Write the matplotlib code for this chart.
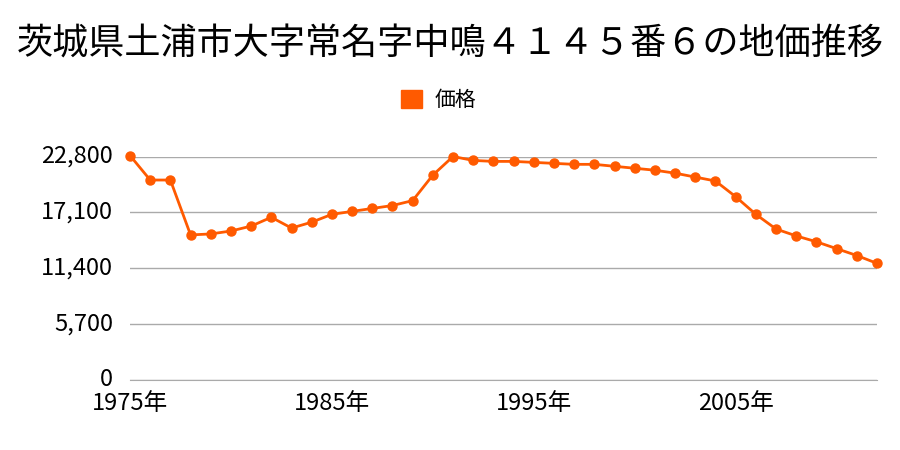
import matplotlib.pyplot as plt
from matplotlib.patches import Patch

plt.rcParams['font.family'] = ['Noto Sans CJK JP', 'DejaVu Sans']

years = list(range(1975, 2013))
prices = [22900, 20400, 20400, 14800, 14900, 15200, 15700, 16600, 15500, 16100,
          16900, 17200, 17500, 17800, 18300, 20900, 22800, 22400, 22300, 22300,
          22200, 22100, 22000, 22000, 21800, 21600, 21400, 21100, 20700, 20300,
          18700, 16900, 15400, 14700, 14100, 13400, 12700, 11900]
yticks = [0, 5700, 11400, 17100, 22800]
xticks = [1975, 1985, 1995, 2005]
title = "茨城県土浦市大字常名字中鳴４１４５番６の地価推移"
color = "#ff5a00"

fig = plt.figure(figsize=(9, 4.5), dpi=100)
ax = fig.add_axes([130 / 900, 1 - 380 / 450, 747 / 900, 223.5 / 450])

ax.plot(years, prices, color=color, lw=2, marker="o", markersize=6.5, clip_on=False, zorder=3)

ax.set_xlim(1975, 2012)
ax.set_ylim(0, 22800)
ax.set_yticks(yticks)
ax.set_yticklabels([f"{v:,}" for v in yticks], fontsize=17)
ax.set_xticks(xticks)
ax.set_xticklabels([f"{y}年" for y in xticks], fontsize=17)
ax.tick_params(axis="y", length=0, pad=12)
ax.tick_params(axis="x", length=0, pad=9)
for lab in ax.get_yticklabels():
    lab.set_verticalalignment("center")
ax.grid(axis="y", color="#aaaaaa", lw=1)
ax.set_axisbelow(True)
for s in ["top", "right", "left"]:
    ax.spines[s].set_visible(False)
ax.spines["bottom"].set_color("#aaaaaa")

fig.text(0.5, 1 - 45 / 450, title, ha="center", va="center", fontsize=26)
fig.legend(handles=[Patch(color=color, label="価格")], loc="center",
           bbox_to_anchor=(0.487, 1 - 100 / 450), frameon=False, fontsize=15,
           handlelength=1.0, handleheight=1.0, handletextpad=0.6)

fig.savefig("out.png", dpi=100)
